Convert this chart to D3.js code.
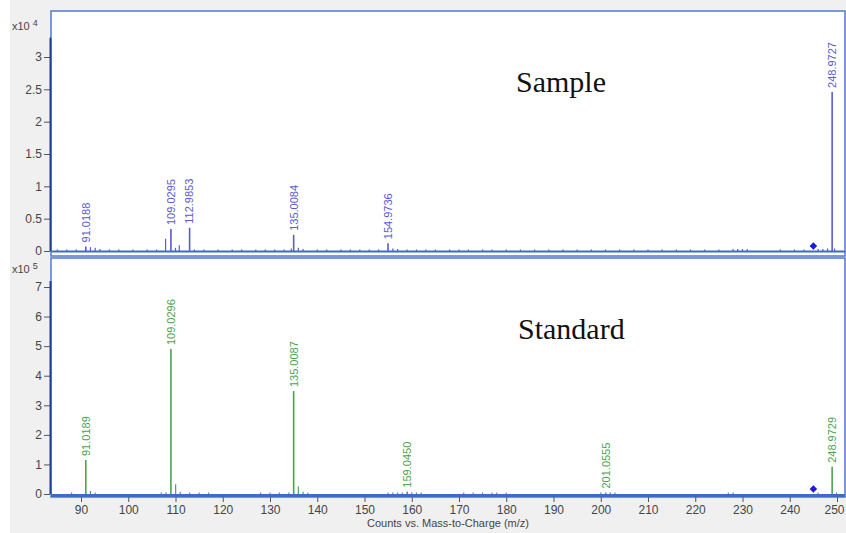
<!DOCTYPE html>
<html>
<head>
<meta charset="utf-8">
<script src="https://cdn.jsdelivr.net/npm/d3@7"></script>
<style>
  body { margin: 0; background: #fff; }
  svg text { font-family: "Liberation Sans", Arial, sans-serif; }
</style>
</head>
<body>
<div id="chart"></div>
<script>
// ---- data ----
// Sample (counts x10^4)
var sampleMz     = [91.0188, 109.0295, 112.9853, 135.0084, 154.9736, 248.9727];
var sampleVal    = [0.07, 0.34, 0.36, 0.25, 0.12, 2.46];
var sampleLabels = ["91.0188", "109.0295", "112.9853", "135.0084", "154.9736", "248.9727"];
var sampleMinorMz  = [85, 87, 89, 92, 93, 94, 96, 98, 101, 104, 106, 107.9, 110, 110.8, 114, 116, 119, 122, 124, 127, 129, 131, 133, 134.5, 136, 137, 140, 142, 145, 147, 149, 151, 153, 156, 157, 159, 161, 163, 165, 168, 170, 172, 175, 177, 180, 183, 186, 189, 192, 195, 198, 201, 204, 207, 210, 213, 216, 219, 222, 225, 228, 229, 230, 231, 238, 241, 243, 246, 247, 248, 249.5];
var sampleMinorVal = [0.02, 0.02, 0.02, 0.06, 0.05, 0.03, 0.02, 0.02, 0.02, 0.02, 0.02, 0.19, 0.05, 0.09, 0.02, 0.02, 0.02, 0.02, 0.02, 0.02, 0.02, 0.02, 0.02, 0.04, 0.05, 0.03, 0.02, 0.02, 0.02, 0.02, 0.02, 0.02, 0.02, 0.04, 0.03, 0.02, 0.02, 0.02, 0.02, 0.02, 0.02, 0.02, 0.02, 0.02, 0.02, 0.02, 0.02, 0.02, 0.02, 0.02, 0.02, 0.02, 0.02, 0.02, 0.02, 0.02, 0.02, 0.02, 0.02, 0.02, 0.03, 0.03, 0.03, 0.03, 0.02, 0.02, 0.02, 0.03, 0.03, 0.04, 0.04];

// Standard (counts x10^5)
var standardMz     = [91.0189, 109.0296, 135.0087, 159.0450, 201.0555, 248.9729];
var standardVal    = [1.15, 4.9, 3.48, 0.08, 0.05, 0.92];
var standardLabels = ["91.0189", "109.0296", "135.0087", "159.0450", "201.0555", "248.9729"];
var standardMinorMz  = [88, 92, 93, 107, 108, 110.03, 111, 113, 115, 117, 128, 130, 132, 134, 136, 137, 138, 155, 156, 157, 158, 160, 161, 162, 171, 173, 175, 177, 178, 180, 200, 202, 203, 227, 228, 246, 249.9];
var standardMinorVal = [0.03, 0.1, 0.05, 0.04, 0.06, 0.33, 0.08, 0.04, 0.03, 0.03, 0.03, 0.03, 0.03, 0.03, 0.25, 0.08, 0.04, 0.03, 0.04, 0.05, 0.04, 0.06, 0.03, 0.03, 0.03, 0.03, 0.03, 0.03, 0.03, 0.03, 0.03, 0.04, 0.03, 0.03, 0.03, 0.03, 0.03];

var precursorMz = 245;
var xTicks = [90, 100, 110, 120, 130, 140, 150, 160, 170, 180, 190, 200, 210, 220, 230, 240, 250];
var topTicks = [0, 0.5, 1, 1.5, 2, 2.5, 3];
var botTicks = [0, 1, 2, 3, 4, 5, 6, 7];

// ---- layout ----
var W = 846, H = 533;
var left = 51, right = 845;

var svg = d3.select("#chart").append("svg")
  .attr("width", W).attr("height", H);

svg.append("rect").attr("x", 10).attr("y", 0).attr("width", W - 10).attr("height", H)
  .attr("fill", "#f0f0f0");

var x = d3.scaleLinear().domain([90, 250]).range([81, 837]);

var panels = [
  { top: 11, bottom: 256, y: d3.scaleLinear().domain([0, 3]).range([251, 57]), yMax: 3.3,
    ticks: topTicks, fmt: d3.format("~g"), exp: "4",
    mz: sampleMz, val: sampleVal, labels: sampleLabels,
    minorMz: sampleMinorMz, minorVal: sampleMinorVal,
    color: "#5a5ad2", title: "Sample", titleX: 516, titleY: 92 },
  { top: 258, bottom: 497, y: d3.scaleLinear().domain([0, 7]).range([494, 287]), yMax: 7.2,
    ticks: botTicks, fmt: d3.format("d"), exp: "5",
    mz: standardMz, val: standardVal, labels: standardLabels,
    minorMz: standardMinorMz, minorVal: standardMinorVal,
    color: "#4ea24e", title: "Standard", titleX: 518, titleY: 339 }
];

panels.forEach(function(p, k) {
  var g = svg.append("g");
  var y = p.y;

  // plot area
  g.append("rect")
    .attr("x", left).attr("y", p.top)
    .attr("width", right - left).attr("height", p.bottom - p.top)
    .attr("fill", "#fff")
    .attr("stroke", "#4f7bcc").attr("stroke-width", 1.5);

  // y axis
  var yAxis = d3.axisLeft(y).tickValues(p.ticks).tickFormat(p.fmt).tickSize(6).tickSizeOuter(0);
  var ya = g.append("g").attr("transform", "translate(" + (left - 1) + ",0)").call(yAxis);
  ya.select(".domain").remove();
  ya.selectAll(".tick line").attr("stroke", "#555");
  ya.selectAll(".tick text").attr("fill", "#444").attr("font-size", 12).attr("x", -8);
  g.append("line")
    .attr("x1", left - 0.5).attr("x2", left - 0.5)
    .attr("y1", y(p.yMax)).attr("y2", y(0))
    .attr("stroke", "#22408e").attr("stroke-width", 2);

  // exponent label
  var ex = g.append("text").attr("x", 12).attr("y", y(p.yMax) - 8)
    .attr("font-size", 11).attr("fill", "#444");
  ex.append("tspan").text("x10");
  ex.append("tspan").attr("dy", -4).attr("dx", 3).attr("font-size", 9).text(p.exp);

  // minor peaks
  g.selectAll(".minor").data(d3.range(p.minorMz.length)).enter().append("line")
    .attr("x1", function(i) { return x(p.minorMz[i]); })
    .attr("x2", function(i) { return x(p.minorMz[i]); })
    .attr("y1", y(0))
    .attr("y2", function(i) { return Math.min(y(0) - 1.5, y(p.minorVal[i])); })
    .attr("stroke", p.color).attr("stroke-width", 1.2);

  // baseline
  g.append("line")
    .attr("x1", left).attr("x2", right)
    .attr("y1", y(0) + (k ? 1.5 : 0.5)).attr("y2", y(0) + (k ? 1.5 : 0.5))
    .attr("stroke", "#3d6cc6").attr("stroke-width", k ? 3 : 2);

  // labelled peaks
  g.selectAll(".peak").data(d3.range(p.mz.length)).enter().append("line")
    .attr("x1", function(i) { return x(p.mz[i]); })
    .attr("x2", function(i) { return x(p.mz[i]); })
    .attr("y1", y(0))
    .attr("y2", function(i) { return y(p.val[i]); })
    .attr("stroke", p.color).attr("stroke-width", 1.6);

  g.selectAll(".plabel").data(d3.range(p.mz.length)).enter().append("text")
    .attr("transform", function(i) {
      return "translate(" + x(p.mz[i]) + "," + (y(p.val[i]) - 4) + ") rotate(-90)";
    })
    .attr("dy", "0.35em")
    .attr("font-size", 11)
    .attr("fill", p.color)
    .text(function(i) { return p.labels[i]; });

  // precursor diamond
  g.append("path")
    .attr("d", d3.symbol(d3.symbolDiamond2, 36)())
    .attr("transform", "translate(" + x(precursorMz) + "," + (y(0) - 5) + ")")
    .attr("fill", "#1a1ae0");

  // panel title
  g.append("text")
    .attr("x", p.titleX).attr("y", p.titleY)
    .style("font-family", "'Liberation Serif', 'Times New Roman', serif")
    .attr("font-size", 30).attr("fill", "#111")
    .text(p.title);

  // x axis under bottom panel
  if (k === 1) {
    var xa = svg.append("g").attr("transform", "translate(0," + (y(0) + 3) + ")")
      .call(d3.axisBottom(x).tickValues(xTicks).tickSize(5).tickSizeOuter(0));
    xa.select(".domain").remove();
    xa.selectAll(".tick line").attr("stroke", "#555");
    xa.selectAll(".tick text").attr("fill", "#444").attr("font-size", 12).attr("y", 8)
      .attr("dx", function(d) { return d === 250 ? -3 : 0; });
  }
});

svg.append("text")
  .attr("x", 448).attr("y", 527)
  .attr("text-anchor", "middle")
  .attr("font-size", 11).attr("fill", "#444")
  .text("Counts vs. Mass-to-Charge (m/z)");
</script>
</body>
</html>
